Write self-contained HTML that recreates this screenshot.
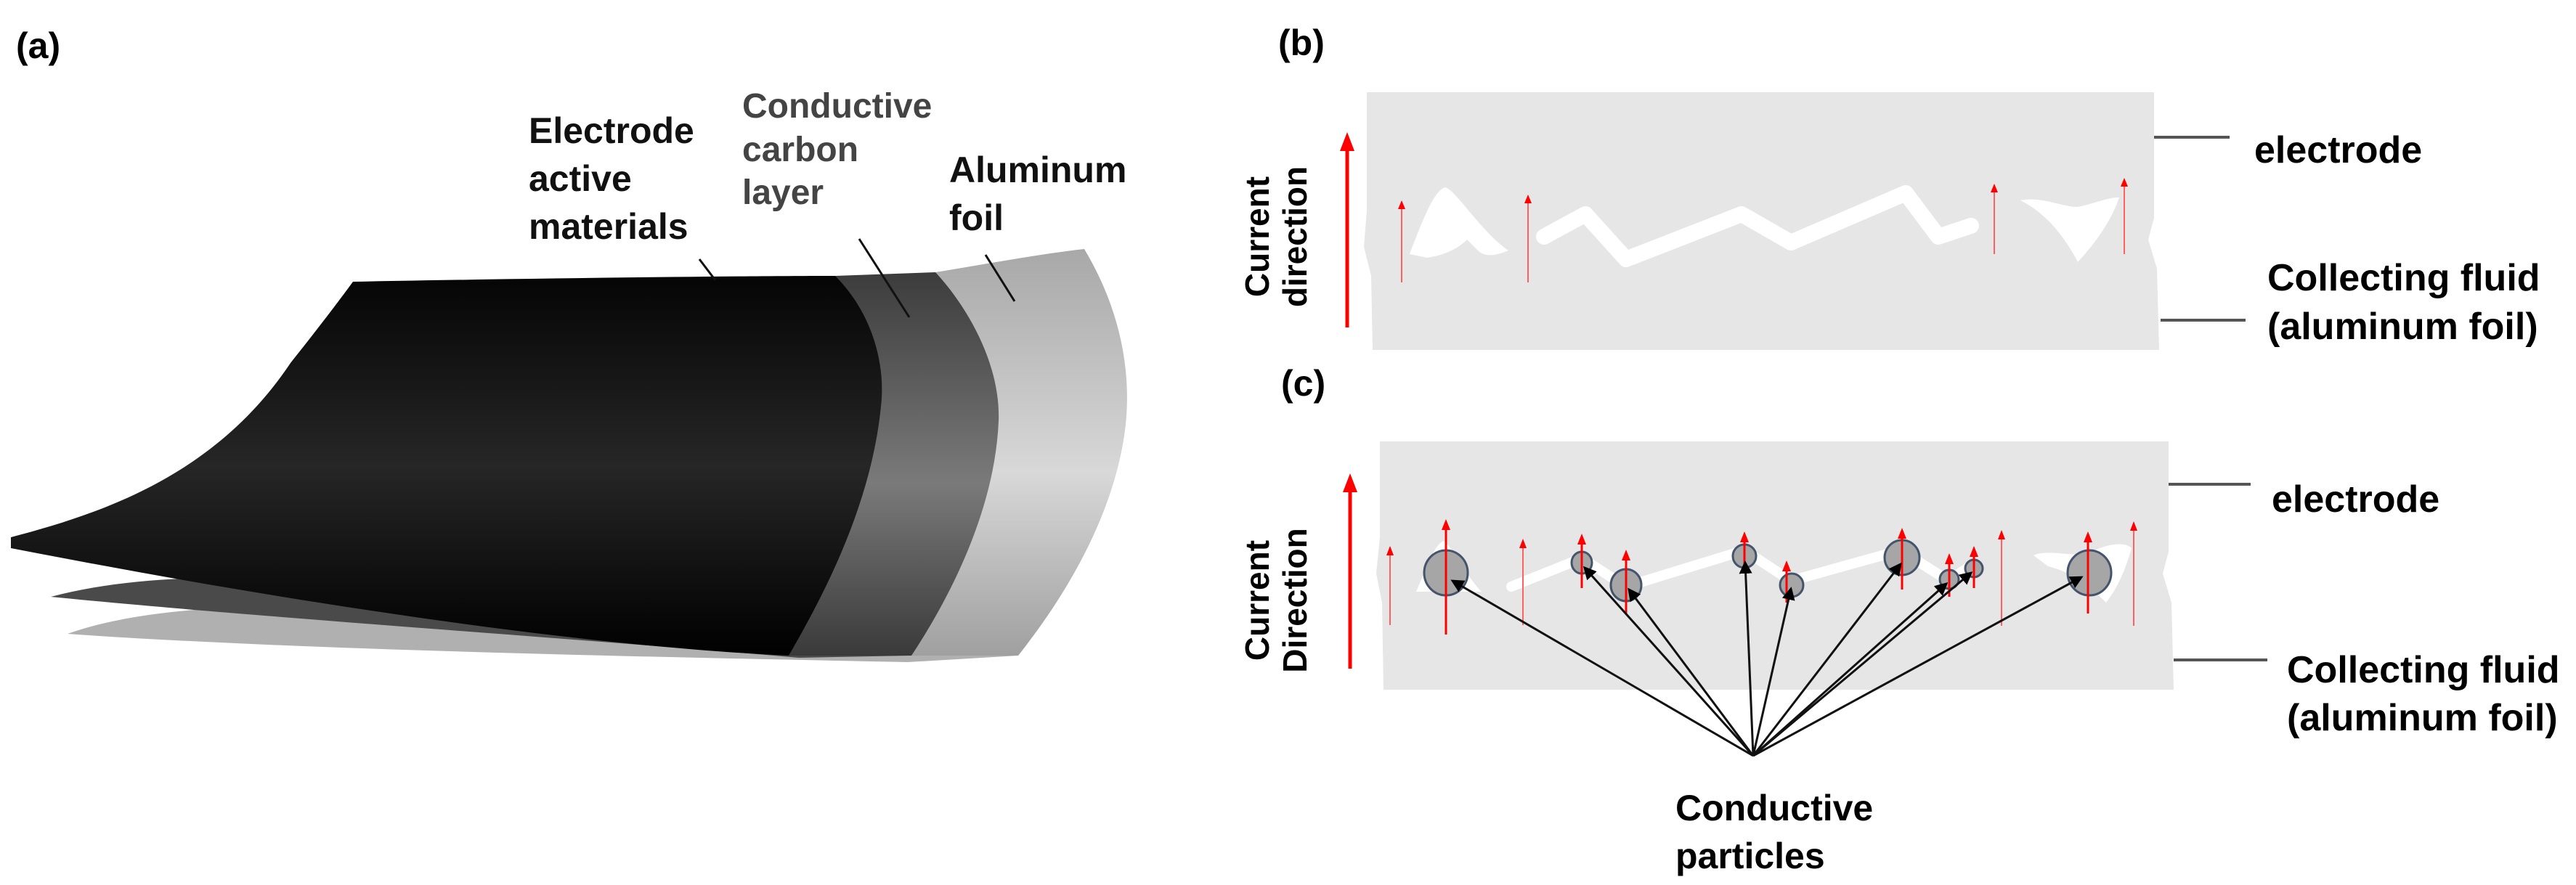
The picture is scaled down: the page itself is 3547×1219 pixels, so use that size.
<!DOCTYPE html>
<html><head><meta charset="utf-8"><style>
html,body{margin:0;padding:0;background:#fff;}
svg{display:block;}
text{font-family:"Liberation Sans",Arial,sans-serif;font-weight:bold;}
</style></head><body>
<svg width="3547" height="1219" viewBox="0 0 3547 1219" xmlns="http://www.w3.org/2000/svg">
<defs>
<linearGradient id="gBlack" x1="0" y1="0" x2="0" y2="1">
<stop offset="0" stop-color="#050505"/><stop offset="0.5" stop-color="#262626"/><stop offset="1" stop-color="#000"/>
</linearGradient>
<linearGradient id="gDark" x1="0" y1="0" x2="0" y2="1">
<stop offset="0" stop-color="#3c3c3c"/><stop offset="0.55" stop-color="#7a7a7a"/><stop offset="1" stop-color="#3a3a3a"/>
</linearGradient>
<linearGradient id="gLight" x1="0" y1="0" x2="0" y2="1">
<stop offset="0" stop-color="#a8a8a8"/><stop offset="0.55" stop-color="#d8d8d8"/><stop offset="1" stop-color="#a0a0a0"/>
</linearGradient>
<marker id="ah" markerWidth="6" markerHeight="6" refX="5" refY="3" orient="auto" markerUnits="strokeWidth">
<path d="M0,0 L6,3 L0,6 z" fill="#000"/></marker>
</defs>

<!-- (a) -->
<text x="22" y="80" font-size="50">(a)</text>

<path d="M93,873 C300,800 700,850 1000,880 L1402,903 L1250,912 C900,905 400,895 93,873 Z" fill="#b0b0b0"/>
<path d="M70,822 C300,760 700,820 1000,860 L1255,903 L1100,906 C800,880 350,850 70,822 Z" fill="#4a4a4a"/>

<path d="M1288,375 C1350,365 1430,350 1493,343 C1545,430 1560,520 1548,600 C1530,720 1460,830 1402,903 L1255,903 Z" fill="url(#gLight)"/>
<path d="M1150,380 L1288,375 C1330,420 1378,500 1375,580 C1370,700 1310,820 1255,903 L1086,903 Z" fill="url(#gDark)"/>
<path d="M486,388 C700,384 1000,380 1150,380 C1200,430 1220,500 1213,560 C1200,690 1140,810 1086,903 C800,890 400,830 15,755 L15,740 C150,705 300,650 400,500 C440,450 470,410 486,388 Z" fill="url(#gBlack)"/>

<line x1="963" y1="357" x2="985" y2="386" stroke="#111" stroke-width="3"/>
<line x1="1183" y1="329" x2="1252" y2="437" stroke="#111" stroke-width="3"/>
<line x1="1357" y1="351" x2="1397" y2="415" stroke="#111" stroke-width="3"/>

<text font-size="50" fill="#111"><tspan x="728" y="197">Electrode</tspan><tspan x="728" y="263">active</tspan><tspan x="728" y="329">materials</tspan></text>
<text font-size="48" fill="#444"><tspan x="1022" y="162">Conductive</tspan><tspan x="1022" y="222">carbon</tspan><tspan x="1022" y="281">layer</tspan></text>
<text font-size="50" fill="#111"><tspan x="1307" y="251">Aluminum</tspan><tspan x="1307" y="317">foil</tspan></text>

<!-- (b) -->
<text x="1760" y="76" font-size="50">(b)</text>
<path d="M1882,127 L2966,127 L2966,300 L2958,330 L2970,370 L2973,482 L1890,482 L1888,380 L1878,340 L1882,290 Z" fill="#e6e6e6"/>
<path d="M1941,350 C1960,300 1975,262 1990,258 C2005,262 2040,320 2077,345 C2060,352 2045,355 2035,345 L2020,330 C2005,345 1985,352 1965,355 Z" fill="#fff"/>
<path d="M2126,326 L2183,295 L2239,357 L2398,295 L2466,334 L2624,266 L2669,326 L2714,311" fill="none" stroke="#fff" stroke-width="22" stroke-linejoin="round" stroke-linecap="round"/>
<path d="M2782,276 C2810,270 2840,285 2860,285 C2880,282 2900,272 2918,272 C2905,310 2880,340 2861,361 C2845,330 2820,295 2782,276 Z" fill="#fff"/>
<g stroke="#ff6060" stroke-width="2" fill="#ff0000">
<line x1="1930" y1="389" x2="1930" y2="285"/><path d="M1925,288 L1930,276 L1935,288 Z" stroke="none"/>
<line x1="2104" y1="389" x2="2104" y2="277"/><path d="M2099,280 L2104,268 L2109,280 Z" stroke="none"/>
<line x1="2746" y1="350" x2="2746" y2="262"/><path d="M2741,265 L2746,253 L2751,265 Z" stroke="none"/>
<line x1="2925" y1="350" x2="2925" y2="254"/><path d="M2920,257 L2925,245 L2930,257 Z" stroke="none"/>
</g>
<line x1="1855" y1="451" x2="1855" y2="205" stroke="#ff0000" stroke-width="5"/>
<path d="M1845,208 L1855,182 L1865,208 Z" fill="#ff0000"/>
<text font-size="46" text-anchor="middle" transform="translate(1755,326) rotate(-90)"><tspan x="0" y="-8">Current</tspan><tspan x="0" y="44">direction</tspan></text>
<line x1="2966" y1="189" x2="3070" y2="189" stroke="#555" stroke-width="4"/>
<text x="3104" y="224" font-size="52">electrode</text>
<line x1="2975" y1="441" x2="3092" y2="441" stroke="#555" stroke-width="4"/>
<text font-size="52"><tspan x="3122" y="400">Collecting fluid</tspan><tspan x="3122" y="467">(aluminum foil)</tspan></text>

<!-- (c) -->
<text x="1764" y="545" font-size="50">(c)</text>
<path d="M1900,608 L2986,608 L2986,760 L2978,790 L2990,830 L2993,950 L1905,950 L1903,830 L1895,790 L1900,740 Z" fill="#e6e6e6"/>
<path d="M1950,815 C1965,780 1975,750 1988,745 C2005,760 2020,795 2040,815 Z" fill="#fff"/>
<path d="M2081,808 L2178,769 L2239,808 L2402,758 L2466,800 L2617,758 L2683,800 L2717,777" fill="none" stroke="#fff" stroke-width="14" stroke-linejoin="round" stroke-linecap="round"/>
<path d="M2800,765 C2820,755 2860,770 2880,760 C2900,750 2925,745 2935,755 C2925,790 2915,810 2900,830 C2880,810 2860,790 2820,780 Z" fill="#fff"/>
<g stroke="#ff6060" stroke-width="2" fill="#ff0000">
<line x1="1914" y1="861" x2="1914" y2="762"/><path d="M1909,765 L1914,752 L1919,765 Z" stroke="none"/>
<line x1="2097" y1="861" x2="2097" y2="752"/><path d="M2092,755 L2097,742 L2102,755 Z" stroke="none"/>
<line x1="2756" y1="862" x2="2756" y2="740"/><path d="M2751,743 L2756,730 L2761,743 Z" stroke="none"/>
<line x1="2938" y1="862" x2="2938" y2="728"/><path d="M2933,731 L2938,718 L2943,731 Z" stroke="none"/>
</g>
<g fill="#a6a6a6" stroke="#44546a" stroke-width="3">
<ellipse cx="1991" cy="789" rx="30" ry="31"/>
<ellipse cx="2178" cy="775" rx="14" ry="15"/>
<ellipse cx="2239" cy="806" rx="21" ry="22"/>
<ellipse cx="2402" cy="766" rx="16" ry="16"/>
<ellipse cx="2467" cy="806" rx="16" ry="16"/>
<ellipse cx="2619" cy="768" rx="24" ry="24"/>
<ellipse cx="2684" cy="798" rx="13" ry="13"/>
<ellipse cx="2718" cy="783" rx="12" ry="12"/>
<ellipse cx="2877" cy="789" rx="30" ry="31"/>
</g>
<g stroke="#ff0000" stroke-width="3" fill="#ff0000">
<line x1="1991" y1="874" x2="1991" y2="728"/><path d="M1985,730 L1991,715 L1997,730 Z" stroke="none"/>
<line x1="2178" y1="810" x2="2178" y2="748"/><path d="M2172,750 L2178,735 L2184,750 Z" stroke="none"/>
<line x1="2239" y1="845" x2="2239" y2="770"/><path d="M2233,772 L2239,757 L2245,772 Z" stroke="none"/>
<line x1="2402" y1="790" x2="2402" y2="745"/><path d="M2396,747 L2402,732 L2408,747 Z" stroke="none"/>
<line x1="2460" y1="830" x2="2460" y2="785"/><path d="M2454,787 L2460,772 L2466,787 Z" stroke="none"/>
<line x1="2619" y1="812" x2="2619" y2="740"/><path d="M2613,742 L2619,727 L2625,742 Z" stroke="none"/>
<line x1="2684" y1="822" x2="2684" y2="775"/><path d="M2678,777 L2684,762 L2690,777 Z" stroke="none"/>
<line x1="2718" y1="810" x2="2718" y2="765"/><path d="M2712,767 L2718,752 L2724,767 Z" stroke="none"/>
<line x1="2875" y1="845" x2="2875" y2="745"/><path d="M2869,747 L2875,732 L2881,747 Z" stroke="none"/>
</g>
<g stroke="#111" stroke-width="3" marker-end="url(#ah)">
<line x1="2414" y1="1041" x2="2000" y2="800"/>
<line x1="2414" y1="1041" x2="2182" y2="782"/>
<line x1="2414" y1="1041" x2="2243" y2="812"/>
<line x1="2414" y1="1041" x2="2403" y2="775"/>
<line x1="2414" y1="1041" x2="2466" y2="811"/>
<line x1="2414" y1="1041" x2="2617" y2="777"/>
<line x1="2414" y1="1041" x2="2680" y2="804"/>
<line x1="2414" y1="1041" x2="2714" y2="789"/>
<line x1="2414" y1="1041" x2="2866" y2="795"/>
</g>
<line x1="1859" y1="921" x2="1859" y2="675" stroke="#ff0000" stroke-width="5"/>
<path d="M1849,678 L1859,652 L1869,678 Z" fill="#ff0000"/>
<text font-size="46" text-anchor="middle" transform="translate(1755,827) rotate(-90)"><tspan x="0" y="-8">Current</tspan><tspan x="0" y="44">Direction</tspan></text>
<line x1="2986" y1="667" x2="3099" y2="667" stroke="#555" stroke-width="4"/>
<text x="3128" y="705" font-size="52">electrode</text>
<line x1="2993" y1="909" x2="3122" y2="909" stroke="#555" stroke-width="4"/>
<text font-size="52"><tspan x="3149" y="940">Collecting fluid</tspan><tspan x="3149" y="1006">(aluminum foil)</tspan></text>
<text font-size="50"><tspan x="2307" y="1130">Conductive</tspan><tspan x="2307" y="1196">particles</tspan></text>
</svg>
</body></html>
